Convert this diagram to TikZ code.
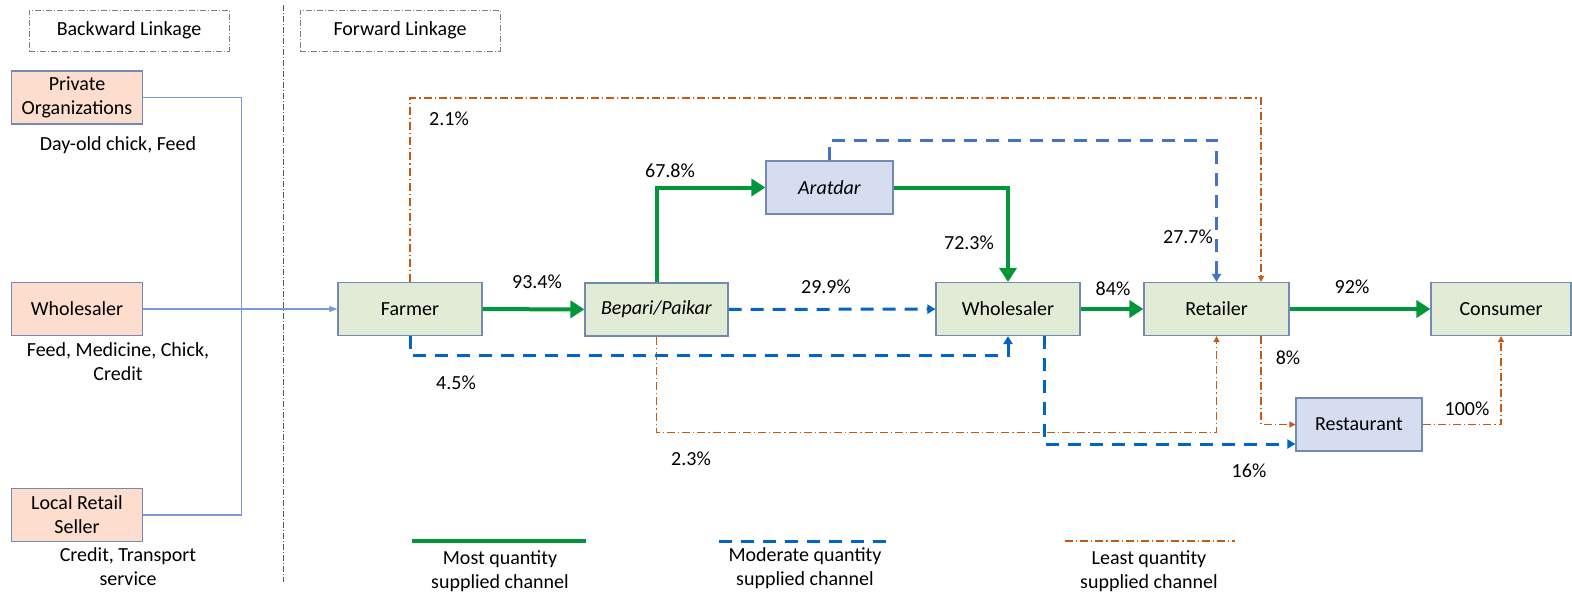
\documentclass[tikz,border=0pt]{standalone}
\usepackage{fontspec}
\setmainfont{Carlito}
\usepackage{tikz}
\usetikzlibrary{arrows.meta}
\definecolor{mostgreen}{RGB}{0,150,57}
\definecolor{modblue}{RGB}{0,100,200}
\definecolor{aratblue}{RGB}{68,114,196}
\definecolor{leastorange}{RGB}{197,90,17}
\definecolor{boxline}{RGB}{115,138,176}
\definecolor{greenfill}{RGB}{226,235,214}
\definecolor{salmonfill}{RGB}{252,221,206}
\definecolor{lavfill}{RGB}{215,221,241}
\definecolor{backblue}{RGB}{120,155,212}

\begin{document}
\begin{tikzpicture}[x=0.5pt,y=-0.5pt,
  every node/.style={font=\fontsize{10}{12}\selectfont, align=center},
  chainbox/.style={draw=boxline, line width=0.6pt, inner sep=0pt, minimum height=26.5pt},
  linkbox/.style={draw=gray, line width=0.5pt, dash pattern=on 3pt off 1pt on 0.5pt off 1pt, minimum width=100pt, minimum height=20.5pt},
  most/.style={mostgreen, line width=2pt, -{Triangle[length=7pt,width=8.5pt]}},
  moderate/.style={modblue, line width=1.5pt, dash pattern=on 6.5pt off 4.5pt, -{Triangle[length=4pt,width=4.5pt]}},
  least/.style={leastorange, line width=0.7pt, dash pattern=on 4pt off 1.5pt on 0.6pt off 1.5pt, -{Triangle[length=3pt,width=3pt]}},
  backward/.style={backblue, line width=0.6pt}]
  \useasboundingbox (0,0) rectangle (1572,595);
  \draw [gray!70!black, line width=0.4pt, dash pattern=on 3pt off 1pt on 0.5pt off 1pt] (283,5) -- (283,582);
  \node [linkbox] (backlink) at (129,30.5) {Backward Linkage};
  \node [linkbox] (forelink) at (400,30.5) {Forward Linkage};

  \node [chainbox, fill=salmonfill, minimum width=65.5pt] (privorg) at (77,97.5) {Private\\Organizations};
  \node [chainbox, fill=salmonfill, minimum width=65.5pt] (wsleft) at (77,309) {Wholesaler};
  \node [chainbox, fill=salmonfill, minimum width=65.5pt] (localret) at (77,515) {Local Retail\\Seller};
  \node (privtxt) at (118,145) {Day-old chick, Feed};
  \node (wstxt) at (118,361.5) {Feed, Medicine, Chick,\\Credit};
  \node (localtxt) at (128,567) {Credit, Transport\\service};

  \node [chainbox, fill=greenfill, minimum width=72pt] (farmer) at (410,309) {Farmer};
  \node [chainbox, fill=greenfill, minimum width=71.5pt] (bepari) at (656.5,309.5) {\textit{Bepari/Paikar}};
  \node [chainbox, fill=greenfill, minimum width=72pt] (whole) at (1008,309) {Wholesaler};
  \node [chainbox, fill=greenfill, minimum width=72.5pt] (retail) at (1216.5,309) {Retailer};
  \node [chainbox, fill=greenfill, minimum width=70pt] (consumer) at (1501,309) {Consumer};
  \node [chainbox, fill=lavfill, minimum width=63.5pt] (aratdar) at (829.5,187.5) {\textit{Aratdar}};
  \node [chainbox, fill=lavfill, minimum width=63pt] (restaurant) at (1359,424.5) {Restaurant};

  \draw [backward] (privorg.east) -- ++(98,0) |- (localret.east);
  \draw [backward, -{Triangle[length=4pt,width=3pt]}] (wsleft) -- (farmer);

  \draw [least] (farmer.north) -- ++(0,-184) -| ([xshift=22.25pt]retail.north);
  \draw [least] (bepari.south) -- ++(0,96) -| (retail.south);
  \draw [least] ([xshift=22.25pt]retail.south) |- (restaurant.west);
  \draw [least] (restaurant.east) -| (consumer.south);

  \draw [moderate] (bepari) -- (whole);
  \draw [moderate] (farmer.south) -- ++(0,19) -| (whole.south);
  \draw [moderate, aratblue] (aratdar.north) -- ++(0,-20) -| (retail.north);
  \draw [moderate] ([xshift=18pt]whole.south) |- ([yshift=-9.75pt]restaurant.west);

  \draw [most] (farmer) -- (bepari);
  \draw [most] (bepari.north) |- (aratdar.west);
  \draw [most] (aratdar.east) -| (whole.north);
  \draw [most] (whole) -- (retail);
  \draw [most] (retail) -- (consumer);

  \node (p21) at (449,119) {2.1\%};
  \node (p678) at (670,171) {67.8\%};
  \node (p934) at (537,282) {93.4\%};
  \node (p299) at (826,287) {29.9\%};
  \node (p723) at (969,243) {72.3\%};
  \node (p84) at (1113,289) {84\%};
  \node (p277) at (1188,237) {27.7\%};
  \node (p92) at (1352,287) {92\%};
  \node (p45) at (456,383) {4.5\%};
  \node (p8) at (1288,358) {8\%};
  \node (p23) at (691,459) {2.3\%};
  \node (p100) at (1467,409) {100\%};
  \node (p16) at (1249,471) {16\%};

  \coordinate (mostA) at (412,541);
  \coordinate (mostB) at (586,541);
  \coordinate (modA) at (719,541);
  \coordinate (modB) at (893,541);
  \coordinate (leastA) at (1065,541);
  \coordinate (leastB) at (1235,541);
  \draw [most, -] (mostA) -- (mostB);
  \draw [moderate, -] (modA) -- (modB);
  \draw [least, -] (leastA) -- (leastB);
  \node (mosttxt) at (500,571.5) {Most quantity\\supplied channel};
  \node (modtxt) at (805,568.5) {Moderate quantity\\supplied channel};
  \node (leasttxt) at (1149,571.5) {Least quantity\\supplied channel};
\end{tikzpicture}
\end{document}
